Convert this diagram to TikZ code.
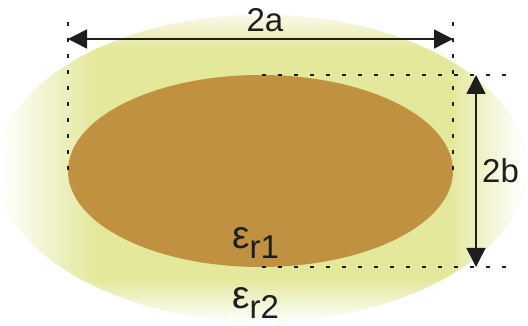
\documentclass[tikz,border=0pt]{standalone}
\usepackage{fontspec}
\setmainfont{Liberation Sans}
\usetikzlibrary{arrows.meta}
\definecolor{halo}{RGB}{227,232,154}
\definecolor{core}{RGB}{191,145,64}
\definecolor{ink}{RGB}{30,30,30}
\tikzset{
  guide/.style={draw=ink,line width=2pt,dash pattern=on 4pt off 12pt},
  dimarrow/.style={draw=ink,line width=1.5pt,{Triangle[length=19pt,width=19pt]}-{Triangle[length=19pt,width=19pt]}},
  lbl/.style={inner sep=0pt,text=ink,font=\fontsize{33}{36}\selectfont},
}
\newcommand{\epsr}[1]{{\fontsize{39}{40}\selectfont ε}\raisebox{-10pt}{r#1}}
\begin{document}
\begin{tikzpicture}[x=1pt,y=-1pt]
\useasboundingbox (0,0) rectangle (528,326);
% outer medium: yellow, fading to white towards its rim
\begin{scope}
  \clip (262,168) ellipse [x radius=264, y radius=153];
  \fill[halo] (0,0) rectangle (528,326);
  \foreach \x in {0,2,...,98}{
    \pgfmathsetmacro{\o}{min(1,max(0,1-(\x-1)/96))}
    \fill[white,fill opacity=\o] (\x,0) rectangle (\x+2,326);
  }
  \foreach \x in {448,450,...,526}{
    \pgfmathsetmacro{\o}{min(1,max(0,1-(521-\x)/74))}
    \fill[white,fill opacity=\o] (\x,0) rectangle (\x+2,326);
  }
  \foreach \y in {10,12,...,48}{
    \pgfmathsetmacro{\o}{min(0.85,max(0,0.85*(1-(\y-13)/36)))}
    \fill[white,fill opacity=\o] (0,\y) rectangle (528,\y+2);
  }
  \foreach \y in {278,280,...,324}{
    \pgfmathsetmacro{\o}{min(0.97,max(0,1-(321-\y)/44))}
    \fill[white,fill opacity=\o] (0,\y) rectangle (528,\y+2);
  }
\end{scope}
% inner core
\fill[core] (260.5,171) ellipse [x radius=192.5, y radius=96];
% guides
\coordinate (la1) at (68,22);  \coordinate (la2) at (68,172);
\coordinate (ra1) at (453,22); \coordinate (ra2) at (453,172);
\coordinate (tb1) at (262,75); \coordinate (tb2) at (510,75);
\coordinate (bb1) at (262,267); \coordinate (bb2) at (510,267);
\draw[guide] (la1) -- (la2);
\draw[guide] (ra1) -- (ra2);
\draw[guide] (tb1) -- (tb2);
\draw[guide] (bb1) -- (bb2);
% dimension arrows
\coordinate (aL) at (68,39);  \coordinate (aR) at (453,39);
\coordinate (bT) at (476,75); \coordinate (bB) at (476,267);
\draw[dimarrow] (aL) -- (aR);
\draw[dimarrow] (bT) -- (bB);
% labels
\node[lbl,anchor=base] (la) at (265,32) {2a};
\node[lbl,anchor=base west] (lb) at (482,183) {2b};
\node[lbl,anchor=base west] (e1) at (232,248) {\epsr{1}};
\node[lbl,anchor=base west] (e2) at (232,308) {\epsr{2}};
\end{tikzpicture}
\end{document}
